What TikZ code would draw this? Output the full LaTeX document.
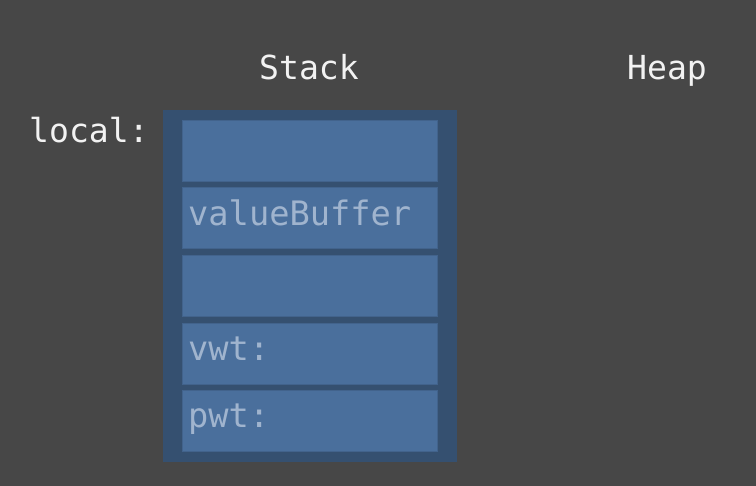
\documentclass[tikz,border=0pt]{standalone}
\usepackage{fontspec}
\setmonofont{DejaVu Sans Mono}
\definecolor{bgc}{RGB}{71,71,71}
\definecolor{outerc}{RGB}{53,80,112}
\definecolor{cellc}{RGB}{74,111,156}
\definecolor{celledge}{RGB}{66,99,140}
\definecolor{celltext}{RGB}{160,180,206}
\definecolor{titlec}{RGB}{242,242,242}
\tikzset{
  stackframe/.style={fill=outerc, draw=none, minimum width=294bp, minimum height=352bp, inner sep=0pt},
  cell/.style={fill=cellc, draw=celledge, line width=1bp, minimum width=255bp, minimum height=61bp, inner sep=0pt},
  title/.style={text=titlec, font=\ttfamily\fontsize{33.2}{38}\selectfont, inner sep=0pt, anchor=base},
  celllabel/.style={text=celltext, font=\ttfamily\fontsize{33.8}{38}\selectfont, inner sep=0pt, anchor=base west},
}
\begin{document}
\begin{tikzpicture}[x=1bp,y=-1bp]
\fill[bgc] (0,0) rectangle (756,486);
\useasboundingbox (0,0) rectangle (756,486);
\node[stackframe] (frame) at (310,286) {};
\node[cell] (c1) at (310,151) {};
\node[cell] (c2) at (310,218.5) {};
\node[cell] (c3) at (310,286) {};
\node[cell] (c4) at (310,353.5) {};
\node[cell] (c5) at (310,421) {};
\node[title] (stacklbl) at (309,80) {Stack};
\node[title] (heaplbl) at (667,80) {Heap};
\node[title, anchor=base west] (locallbl) at (29,143) {local:};
\node[celllabel] (vb) at (188,226) {valueBuffer};
\node[celllabel] (vwt) at (188,360) {vwt:};
\node[celllabel] (pwt) at (188,427) {pwt:};
\end{tikzpicture}
\end{document}
